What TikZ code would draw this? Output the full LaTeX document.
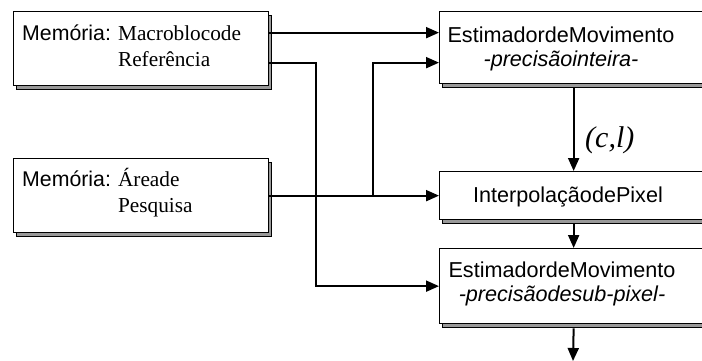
\documentclass[tikz,border=0pt]{standalone}
\usepackage{fontspec}
\setmainfont{Liberation Serif}
\setsansfont{Liberation Sans}
\usetikzlibrary{arrows.meta,shadows}
\tikzset{
  blk/.style={draw, fill=white, line width=1.3pt, anchor=north west, inner sep=0,
    general shadow={shadow xshift=3pt, shadow yshift=-3.5pt, fill=black!40, draw=black, line width=1pt}},
  txt/.style={inner sep=0, font=\fontsize{21}{24}\selectfont},
  flow/.style={line width=2pt, -{Triangle[length=13pt,width=11pt]}},
  wire/.style={line width=2pt}
}
\begin{document}
\begin{tikzpicture}[x=1pt,y=-1pt]
  \useasboundingbox (0,0) rectangle (702,361);
  % blocos da esquerda (memorias)
  \node[blk, minimum width=255pt, minimum height=74pt] (mref) at (13,11) {};
  \node[blk, minimum width=255pt, minimum height=74pt] (marea) at (13,158) {};
  % blocos da direita
  \node[blk, minimum width=268pt, minimum height=72pt] (est1) at (439,11) {};
  \node[blk, minimum width=268pt, minimum height=48pt] (interp) at (439,171) {};
  \node[blk, minimum width=268pt, minimum height=75pt] (est2) at (439,248) {};
  % textos
  \node[txt, anchor=base west, font=\fontsize{21.3}{26}\selectfont] (mreftxt) at (22,41)
    {\begin{tabular}[t]{@{}l@{ }l@{}}\sffamily Memória: & Macroblocode\\ & Referência\end{tabular}};
  \node[txt, anchor=base west, font=\fontsize{21.3}{26}\selectfont] (mareatxt) at (22,186)
    {\begin{tabular}[t]{@{}l@{ }l@{}}\sffamily Memória: & Áreade\\ & Pesquisa\end{tabular}};
  \node[txt, anchor=base, font=\sffamily\fontsize{21.6}{24}\selectfont] (est1txt) at (561,42.7)
    {\begin{tabular}[t]{@{}c@{}}EstimadordeMovimento\\ \itshape -precisãointeira-\end{tabular}};
  \node[txt, anchor=base, font=\sffamily\fontsize{21.6}{24}\selectfont] (interptxt) at (568,202)
    {InterpolaçãodePixel};
  \node[txt, anchor=base, font=\sffamily\fontsize{21.6}{24}\selectfont] (est2txt) at (562,277.7)
    {\begin{tabular}[t]{@{}c@{}}EstimadordeMovimento\\ \itshape -precisãodesub-pixel-\end{tabular}};
  \node[txt, anchor=base west, font=\fontsize{30}{32}\selectfont\itshape] (cl) at (585,147) {(c,l)};
  % ligacoes
  \draw[flow] ([yshift=16pt]mref.east) -- ([yshift=16pt]mref.east -| est1.west);
  \draw[flow] ([yshift=-14pt]mref.east) -- ++(47,0) |- (est2.west);
  \draw[flow] (marea.east) -- (marea.east -| interp.west);
  \coordinate (jn) at (373,195);
  \draw[flow] (jn) |- ([yshift=-15pt]est1.west);
  \draw[flow] ([yshift=-4pt]est1.south) -- (interp.north);
  \draw[flow] ([yshift=-4pt]interp.south) -- (est2.north);
  \coordinate (out) at (573,361);
  \draw[flow] ([yshift=-4pt]est2.south) -- (out);
\end{tikzpicture}
\end{document}
